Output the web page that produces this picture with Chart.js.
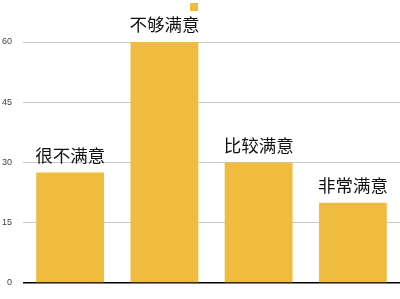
<!DOCTYPE html>
<html>
<head>
<meta charset="utf-8">
<script src="https://cdn.jsdelivr.net/npm/chart.js@4/dist/chart.umd.min.js"></script>
<style>
  html, body { margin: 0; padding: 0; background: #fff; }
  canvas { display: block; }
</style>
</head>
<body>
<canvas id="chart" width="400" height="299"></canvas>
<script>
// Survey answers and how many respondents chose each one
const categories = ['很不满意', '不够满意', '比较满意', '非常满意'];
const counts = [27.5, 60, 30, 20];
const yTicks = [0, 15, 30, 45, 60];
const seriesName = '\u2002';

const BAR_COLOR = '#EFBC40';

// Writes each category name just above its bar
const barLabels = {
  id: 'barLabels',
  afterDatasetsDraw(chart) {
    const ctx = chart.ctx;
    const meta = chart.getDatasetMeta(0);
    ctx.save();
    ctx.font = '17.5px "Noto Sans CJK SC", "Noto Sans CJK JP", sans-serif';
    ctx.fillStyle = '#111';
    ctx.textAlign = 'center';
    ctx.textBaseline = 'alphabetic';
    meta.data.forEach((bar, i) => {
      ctx.fillText(categories[i], bar.x, bar.y - 11);
    });
    ctx.restore();
  }
};

// Leaves room between the legend and the plot for the tallest label
const legendGap = {
  id: 'legendGap',
  beforeInit(chart) {
    const legend = chart.legend;
    if (!legend) return;
    const fit = legend.fit;
    legend.fit = function () {
      fit.call(this);
      this.height += 19;
    };
  }
};

new Chart(document.getElementById('chart'), {
  type: 'bar',
  data: {
    labels: categories,
    datasets: [{
      label: seriesName,
      data: counts,
      backgroundColor: BAR_COLOR,
      borderWidth: 0,
      barPercentage: 0.72,
      categoryPercentage: 1
    }]
  },
  options: {
    responsive: false,
    animation: false,
    devicePixelRatio: 1,
    layout: { padding: { top: 0, right: 0, bottom: 16, left: 0 } },
    plugins: {
      legend: {
        display: true,
        position: 'top',
        labels: {
          boxWidth: 8,
          boxHeight: 8,
          padding: 1,
          font: { size: 12, family: '"Liberation Sans", Arial, sans-serif' },
          color: '#333'
        }
      },
      tooltip: { enabled: false }
    },
    scales: {
      x: {
        display: false,
        grid: { display: false }
      },
      y: {
        min: 0,
        max: 60,
        afterBuildTicks: axis => {
          axis.ticks = yTicks.map(v => ({ value: v }));
        },
        border: { display: false },
        grid: {
          drawTicks: true,
          tickLength: 9,
          tickColor: 'transparent',
          color: c => (c.tick && c.tick.value === 0 ? '#000' : '#c8c8c8'),
          lineWidth: c => (c.tick && c.tick.value === 0 ? 1.5 : 1)
        },
        ticks: {
          padding: 2,
          color: '#444',
          font: { size: 9, family: '"Liberation Sans", Arial, sans-serif' }
        }
      }
    }
  },
  plugins: [barLabels, legendGap]
});
</script>
</body>
</html>
